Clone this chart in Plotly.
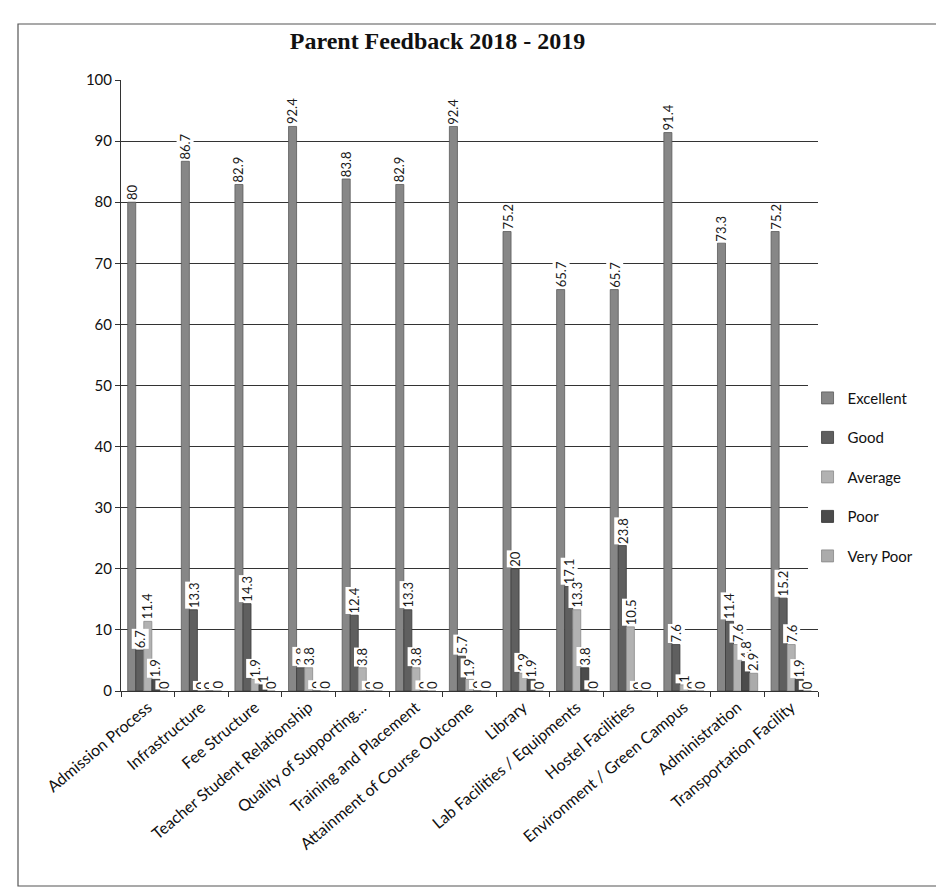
import plotly.graph_objects as go

categories = ["Admission Process", "Infrastructure", "Fee Structure",
              "Teacher Student Relationship", "Quality of Supporting...",
              "Training and Placement", "Attainment of Course Outcome", "Library",
              "Lab Facilities / Equipments", "Hostel Facilities",
              "Environment / Green Campus", "Administration", "Transportation Facility"]

excellent = [80, 86.7, 82.9, 92.4, 83.8, 82.9, 92.4, 75.2, 65.7, 65.7, 91.4, 73.3, 75.2]
good      = [6.7, 13.3, 14.3, 3.8, 12.4, 13.3, 5.7, 20, 17.1, 23.8, 7.6, 11.4, 15.2]
average   = [11.4, 0, 1.9, 3.8, 3.8, 3.8, 1.9, 2.9, 13.3, 10.5, 1, 7.6, 7.6]
poor      = [1.9, 0, 1, 0, 0, 0, 0, 1.9, 3.8, 0, 0, 4.8, 1.9]
very_poor = [0, 0, 0, 0, 0, 0, 0, 0, 0, 0, 0, 2.9, 0]

series_names = ["Excellent", "Good", "Average", "Poor", "Very Poor"]
series_values = [excellent, good, average, poor, very_poor]
colors = ["#878787", "#5f5f5f", "#b2b2b2", "#4b4b4b", "#ababab"]
edges = ["#5a5a5a", "#3a3a3a", "#8a8a8a", "#2e2e2e", "#888888"]

FONT = "Lato, 'Open Sans', sans-serif"
bargap = 0.25
n = len(series_names)
w = (1 - bargap) / n

fig = go.Figure()
for k, (name, vals) in enumerate(zip(series_names, series_values)):
    fig.add_trace(go.Bar(
        name=name, x=categories, y=vals, legendgroup=name,
        marker=dict(color=colors[k], line=dict(color=edges[k], width=0.8)),
    ))

annotations = []
for k, vals in enumerate(series_values):
    off = -(1 - bargap) / 2 + (k + 0.5) * w
    for i, v in enumerate(vals):
        annotations.append(dict(
            x=i + off, y=v, xref="x", yref="y",
            text=f"{v:g}", showarrow=False, textangle=-90,
            xanchor="center", yanchor="bottom", yshift=1,
            bgcolor="white", borderpad=0,
            font=dict(family=FONT, size=13, color="#1a1a1a"),
        ))

fig.update_layout(
    width=944, height=892,
    paper_bgcolor="white", plot_bgcolor="white",
    barmode="group", bargap=bargap, bargroupgap=0,
    margin=dict(l=113, r=134, t=72, b=209),
    title=dict(text="<b>Parent Feedback 2018 - 2019</b>",
               font=dict(family="'Liberation Serif', 'Times New Roman', serif", size=24, color="#111"),
               x=0.455, xanchor="center", y=0.964, yanchor="middle"),
    legend=dict(x=0.985, xanchor="left", y=0.35, yanchor="middle",
                font=dict(family=FONT, size=15, color="#111"),
                tracegroupgap=17, itemwidth=30),
    annotations=annotations,
    shapes=[dict(type="rect", xref="paper", yref="paper",
                 x0=-103/697, x1=(930 - 113)/697, y0=-(878 - 683)/611, y1=(683 - 16)/611,
                 line=dict(color="#555", width=1.2))],
    showlegend=True,
)
fig.update_xaxes(type="category", tickson="boundaries", ticks="outside", ticklen=5,
                 tickcolor="#333", showline=True, linecolor="#333", linewidth=1,
                 tickangle=-40, showgrid=False,
                 tickfont=dict(family=FONT, size=16, color="#111"))
fig.update_yaxes(range=[0, 100], dtick=10, ticks="outside", ticklen=5, tickcolor="#333",
                 showline=True, linecolor="#333", linewidth=1,
                 showgrid=True, gridcolor="#333", gridwidth=1, zeroline=False,
                 tickfont=dict(family=FONT, size=15, color="#111"))

fig.write_html("out.html")
